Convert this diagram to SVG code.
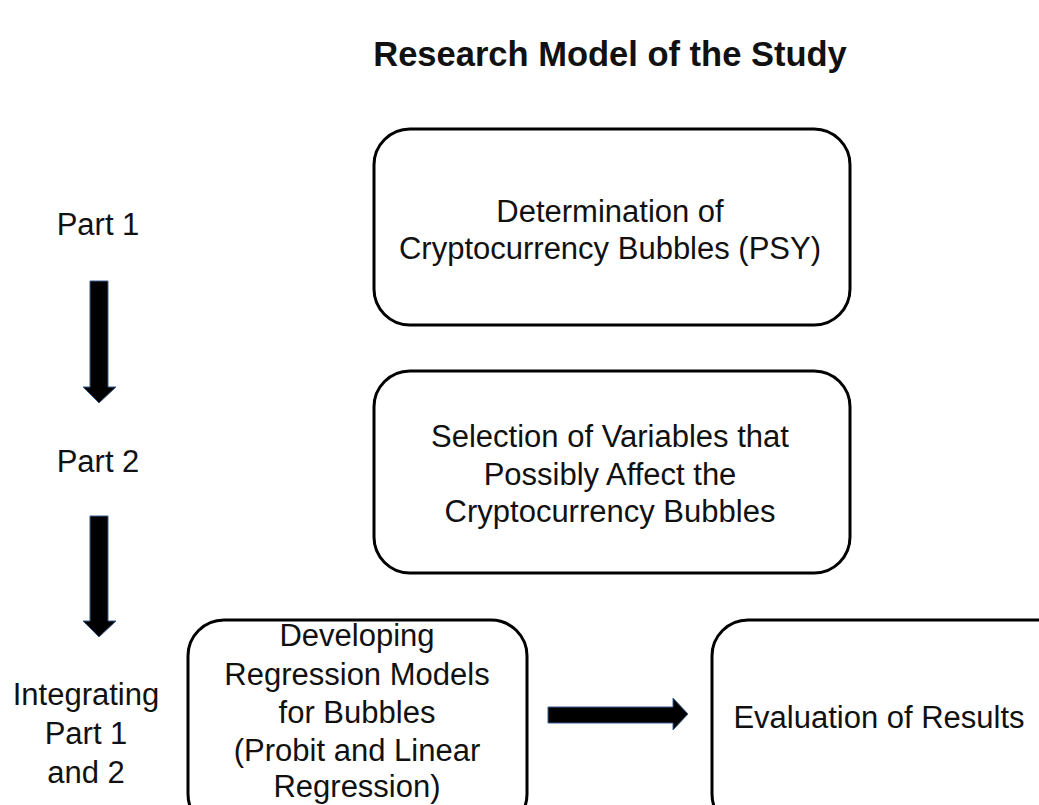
<svg xmlns="http://www.w3.org/2000/svg" width="1039" height="805" viewBox="0 0 1039 805">
<style>
.t{font-family:"Liberation Sans",Arial,sans-serif;font-size:31px;fill:#111;text-anchor:middle}
.b{fill:#fff;stroke:#000;stroke-width:3}
.a{fill:#000;stroke:#3a5f8f;stroke-width:1}
</style>
<rect width="1039" height="805" fill="#fff"/>
<text x="610" y="66" class="t" style="font-weight:bold;font-size:34.5px">Research Model of the Study</text>
<g id="labels">
<text x="98" y="235" class="t">Part 1</text>
<text x="98" y="472" class="t">Part 2</text>
<text x="86" y="705" class="t">Integrating</text>
<text x="86" y="744" class="t">Part 1</text>
<text x="86" y="783" class="t">and 2</text>
</g>
<g id="n1"><rect x="374" y="129" width="476" height="196" rx="36" class="b"/>
<text x="610" y="222" class="t">Determination of</text>
<text x="610" y="259" class="t">Cryptocurrency Bubbles (PSY)</text></g>
<g id="n2"><rect x="374" y="371" width="476" height="202" rx="36" class="b"/>
<text x="610" y="447" class="t">Selection of Variables that</text>
<text x="610" y="485" class="t">Possibly Affect the</text>
<text x="610" y="522" class="t">Cryptocurrency Bubbles</text></g>
<g id="n3"><rect x="188" y="620" width="339" height="210" rx="36" class="b"/>
<text x="357" y="646" class="t">Developing</text>
<text x="357" y="685" class="t">Regression Models</text>
<text x="357" y="723" class="t">for Bubbles</text>
<text x="357" y="761" class="t">(Probit and Linear</text>
<text x="357" y="797" class="t">Regression)</text></g>
<g id="n4"><rect x="712" y="620" width="360" height="210" rx="36" class="b"/>
<text x="879" y="728" class="t">Evaluation of Results</text></g>
<g id="connectors">
<polygon class="a" points="90,281 108,281 108,387 116,387 99,403 83,387 90,387"/>
<polygon class="a" points="90,516 108,516 108,621 116,621 99,637 83,621 90,621"/>
<polygon class="a" points="548,707 673,707 673,698 688,714 673,730 673,723 548,723"/>
</g>
</svg>
